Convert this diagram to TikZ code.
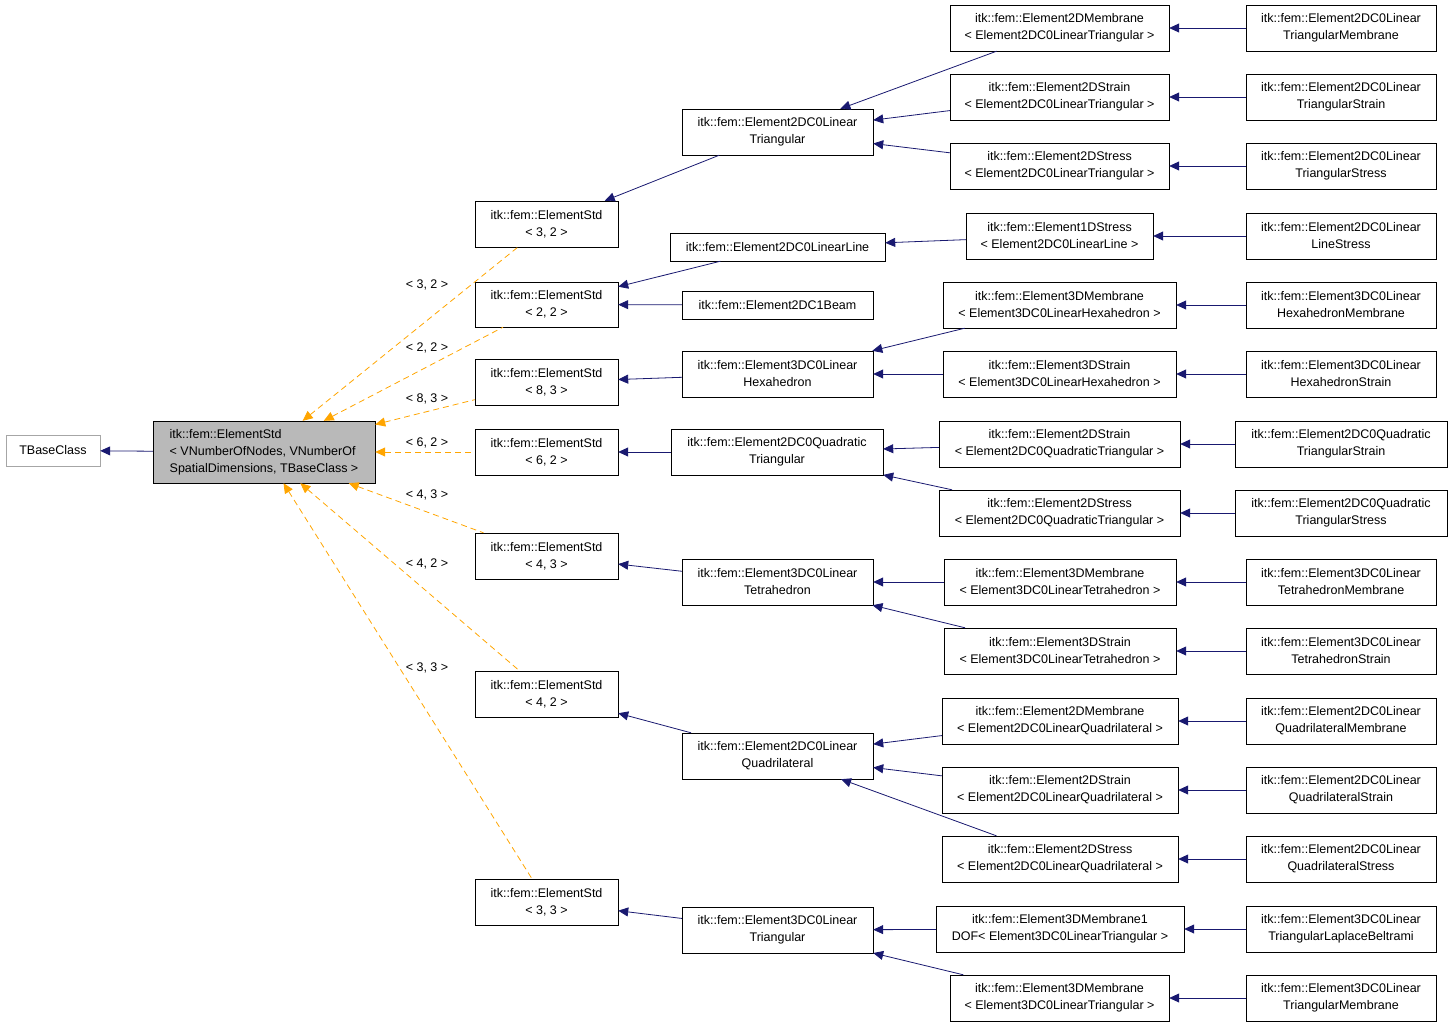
\documentclass[tikz,border=0pt]{standalone}
\usepackage{fontspec}
\setmainfont{Liberation Sans}
\usetikzlibrary{arrows.meta}
\definecolor{navy}{HTML}{191970}
\definecolor{edgeor}{HTML}{FFA500}
\tikzset{
  box/.style={draw=black,fill=white,inner sep=0pt,align=center,font=\fontsize{12.5}{17}\selectfont},
  inh/.style={navy,line width=0.8pt,{Triangle[length=10pt,width=9pt]}-},
  tmpl/.style={edgeor,dashed,dash pattern=on 6pt off 4pt,line width=0.8pt,{Triangle[length=10pt,width=9pt]}-},
  lbl/.style={font=\fontsize{12.5}{15}\selectfont,inner sep=0pt}
}
\newcommand{\bx}[7][]{\node[box,#1,minimum width={(#5-#3)*1pt},minimum height={(#6-#4)*1pt}] (#2) at ({(#3+#5)/2},{(#4+#6)/2}) {#7};}
\begin{document}
\begin{tikzpicture}[x=1pt,y=-1pt]
\useasboundingbox (0,0) rectangle (1453,1027);
\bx[draw=gray!70]{tb}{6}{435}{100}{466}{TBaseClass}
\bx[fill=gray!55]{main}{153}{421}{375}{483}{\begin{tabular}{@{}l@{}}itk::fem::ElementStd\\ {<} VNumberOfNodes, VNumberOf\\ SpatialDimensions, TBaseClass {>}\end{tabular}}
\bx{es32}{475}{201}{618}{247}{itk::fem::ElementStd\\ {<} 3, 2 {>}}
\bx{es22}{475}{282}{618}{327}{itk::fem::ElementStd\\ {<} 2, 2 {>}}
\bx{es83}{475}{359}{618}{405}{itk::fem::ElementStd\\ {<} 8, 3 {>}}
\bx{es62}{475}{429}{618}{475}{itk::fem::ElementStd\\ {<} 6, 2 {>}}
\bx{es43}{475}{533}{618}{579}{itk::fem::ElementStd\\ {<} 4, 3 {>}}
\bx{es42}{475}{671}{618}{717}{itk::fem::ElementStd\\ {<} 4, 2 {>}}
\bx{es33}{475}{879}{618}{925}{itk::fem::ElementStd\\ {<} 3, 3 {>}}
% level 2
\bx{trilin}{682}{109}{873}{155}{itk::fem::Element2DC0Linear\\ Triangular}
\bx{linline}{670}{233}{885}{261}{itk::fem::Element2DC0LinearLine}
\bx{beam}{682}{291}{873}{319}{itk::fem::Element2DC1Beam}
\bx{hexa}{682}{351}{873}{397}{itk::fem::Element3DC0Linear\\ Hexahedron}
\bx{quadtri}{671}{429}{883}{475}{itk::fem::Element2DC0Quadratic\\ Triangular}
\bx{tetra}{682}{559}{873}{605}{itk::fem::Element3DC0Linear\\ Tetrahedron}
\bx{quad}{682}{733}{873}{779}{itk::fem::Element2DC0Linear\\ Quadrilateral}
\bx{tri3d}{682}{907}{873}{953}{itk::fem::Element3DC0Linear\\ Triangular}
% level 3
\bx{a1}{950}{5}{1169}{51}{itk::fem::Element2DMembrane\\ {<} Element2DC0LinearTriangular {>}}
\bx{a2}{950}{74}{1169}{120}{itk::fem::Element2DStrain\\ {<} Element2DC0LinearTriangular {>}}
\bx{a3}{950}{143}{1169}{189}{itk::fem::Element2DStress\\ {<} Element2DC0LinearTriangular {>}}
\bx{a4}{966}{213}{1153}{259}{itk::fem::Element1DStress\\ {<} Element2DC0LinearLine {>}}
\bx{a5}{943}{282}{1176}{328}{itk::fem::Element3DMembrane\\ {<} Element3DC0LinearHexahedron {>}}
\bx{a6}{943}{351}{1176}{397}{itk::fem::Element3DStrain\\ {<} Element3DC0LinearHexahedron {>}}
\bx{a7}{939}{421}{1180}{467}{itk::fem::Element2DStrain\\ {<} Element2DC0QuadraticTriangular {>}}
\bx{a8}{939}{490}{1180}{536}{itk::fem::Element2DStress\\ {<} Element2DC0QuadraticTriangular {>}}
\bx{a9}{944}{559}{1176}{605}{itk::fem::Element3DMembrane\\ {<} Element3DC0LinearTetrahedron {>}}
\bx{a10}{944}{628}{1176}{674}{itk::fem::Element3DStrain\\ {<} Element3DC0LinearTetrahedron {>}}
\bx{a11}{942}{698}{1178}{744}{itk::fem::Element2DMembrane\\ {<} Element2DC0LinearQuadrilateral {>}}
\bx{a12}{942}{767}{1178}{813}{itk::fem::Element2DStrain\\ {<} Element2DC0LinearQuadrilateral {>}}
\bx{a13}{942}{836}{1178}{882}{itk::fem::Element2DStress\\ {<} Element2DC0LinearQuadrilateral {>}}
\bx{a14}{936}{906}{1184}{952}{itk::fem::Element3DMembrane1\\ DOF{<} Element3DC0LinearTriangular {>}}
\bx{a15}{950}{975}{1169}{1021}{itk::fem::Element3DMembrane\\ {<} Element3DC0LinearTriangular {>}}
% level 4
\bx{b1}{1246}{5}{1436}{51}{itk::fem::Element2DC0Linear\\ TriangularMembrane}
\bx{b2}{1246}{74}{1436}{120}{itk::fem::Element2DC0Linear\\ TriangularStrain}
\bx{b3}{1246}{143}{1436}{189}{itk::fem::Element2DC0Linear\\ TriangularStress}
\bx{b4}{1246}{213}{1436}{259}{itk::fem::Element2DC0Linear\\ LineStress}
\bx{b5}{1246}{282}{1436}{328}{itk::fem::Element3DC0Linear\\ HexahedronMembrane}
\bx{b6}{1246}{351}{1436}{397}{itk::fem::Element3DC0Linear\\ HexahedronStrain}
\bx{b7}{1235}{421}{1447}{467}{itk::fem::Element2DC0Quadratic\\ TriangularStrain}
\bx{b8}{1235}{490}{1447}{536}{itk::fem::Element2DC0Quadratic\\ TriangularStress}
\bx{b9}{1246}{559}{1436}{605}{itk::fem::Element3DC0Linear\\ TetrahedronMembrane}
\bx{b10}{1246}{628}{1436}{674}{itk::fem::Element3DC0Linear\\ TetrahedronStrain}
\bx{b11}{1246}{698}{1436}{744}{itk::fem::Element2DC0Linear\\ QuadrilateralMembrane}
\bx{b12}{1246}{767}{1436}{813}{itk::fem::Element2DC0Linear\\ QuadrilateralStrain}
\bx{b13}{1246}{836}{1436}{882}{itk::fem::Element2DC0Linear\\ QuadrilateralStress}
\bx{b14}{1246}{906}{1436}{952}{itk::fem::Element3DC0Linear\\ TriangularLaplaceBeltrami}
\bx{b15}{1246}{975}{1436}{1021}{itk::fem::Element3DC0Linear\\ TriangularMembrane}
% edges
\draw[inh] (tb) -- (main);
\foreach \c in {es32,es22,es83,es62,es43,es42,es33} \draw[tmpl] (main) -- (\c);
\node[lbl] (l1) at (427,285) {{<} 3, 2 {>}};
\node[lbl] (l2) at (427,348) {{<} 2, 2 {>}};
\node[lbl] (l3) at (427,399) {{<} 8, 3 {>}};
\node[lbl] (l4) at (427,443) {{<} 6, 2 {>}};
\node[lbl] (l5) at (427,495) {{<} 4, 3 {>}};
\node[lbl] (l6) at (427,564) {{<} 4, 2 {>}};
\node[lbl] (l7) at (427,668) {{<} 3, 3 {>}};
\draw[inh] (es32) -- (trilin);
\draw[inh] (es22) -- (linline);
\draw[inh] (es22) -- (beam);
\draw[inh] (es83) -- (hexa);
\draw[inh] (es62) -- (quadtri);
\draw[inh] (es43) -- (tetra);
\draw[inh] (es42) -- (quad);
\draw[inh] (es33) -- (tri3d);
\draw[inh] (trilin) -- (a1); \draw[inh] (trilin) -- (a2); \draw[inh] (trilin) -- (a3);
\draw[inh] (linline) -- (a4);
\draw[inh] (hexa) -- (a5); \draw[inh] (hexa) -- (a6);
\draw[inh] (quadtri) -- (a7); \draw[inh] (quadtri) -- (a8);
\draw[inh] (tetra) -- (a9); \draw[inh] (tetra) -- (a10);
\draw[inh] (quad) -- (a11); \draw[inh] (quad) -- (a12); \draw[inh] (quad) -- (a13);
\draw[inh] (tri3d) -- (a14); \draw[inh] (tri3d) -- (a15);
\foreach \i in {1,...,15} \draw[inh] (a\i) -- (b\i);
\end{tikzpicture}
\end{document}
